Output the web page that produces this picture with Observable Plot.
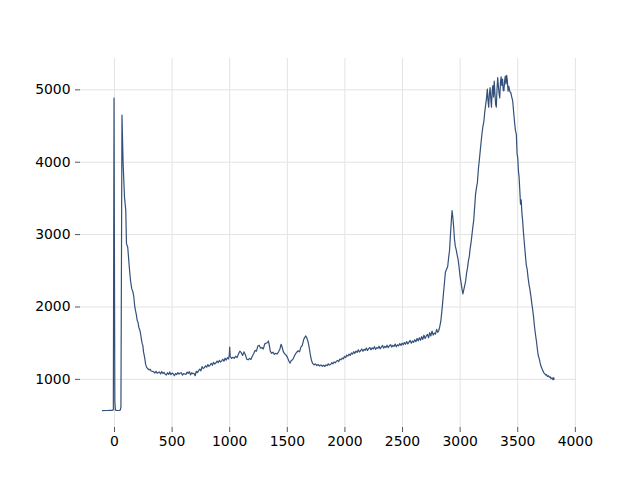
<!DOCTYPE html>
<html>
<head>
<meta charset="utf-8">
<script src="https://cdn.jsdelivr.net/npm/d3@7"></script>
<script src="https://cdn.jsdelivr.net/npm/@observablehq/plot@0.6"></script>
<style>
  html, body { margin: 0; padding: 0; background: white; }
</style>
</head>
<body>
<div id="chart"></div>
<script>
// Spectrum: [x, intensity]
const laserRegion = [
  [-104, 568], [-80, 570], [-60, 570], [-40, 571], [-20, 572], [-10, 580],
  [-4, 4886], [3, 700], [8, 575], [20, 572], [35, 570], [50, 575], [56, 620],
  [65, 4651], [75, 3979], [87, 3514], [98, 3331], [104, 2876], [115, 2825],
  [128, 2560], [139, 2366], [150, 2250], [160, 2210], [168, 2135], [175, 2020], [182, 1952],
  [190, 1890], [197, 1814], [204, 1790], [211, 1721], [218, 1690], [226, 1634],
  [233, 1560], [240, 1497], [246, 1470], [252, 1380], [258, 1330], [263, 1290],
  [270, 1210], [278, 1170], [288, 1150], [300, 1130], [310, 1140], [318, 1115], [330, 1110]
];
const lowRegion = [
  [340, 1105], [350, 1088], [360, 1112], [370, 1084], [380, 1096], [390, 1102], [400, 1075],
  [410, 1108], [420, 1080], [430, 1098], [440, 1070], [450, 1060], [460, 1092], [470, 1068],
  [480, 1102], [490, 1064], [500, 1086], [510, 1078], [520, 1050], [530, 1082], [540, 1066],
  [550, 1094], [560, 1072], [570, 1088], [580, 1092], [590, 1058], [600, 1080], [610, 1074],
  [620, 1068], [630, 1100], [640, 1084], [650, 1106], [660, 1062], [670, 1092], [680, 1078],
  [690, 1084], [700, 1050], [710, 1112], [720, 1094], [730, 1120], [740, 1142], [750, 1118],
  [760, 1176], [770, 1150], [780, 1162], [790, 1188], [800, 1168], [810, 1204], [820, 1180],
  [830, 1196], [840, 1222], [850, 1194], [860, 1236], [870, 1212], [880, 1226], [890, 1252],
  [900, 1230], [910, 1262], [920, 1240], [930, 1256], [940, 1278], [950, 1250], [960, 1292],
  [970, 1266], [980, 1300], [990, 1282], [996, 1330], [1000, 1445], [1004, 1320],
  [1016, 1290], [1028, 1305], [1040, 1290], [1052, 1320], [1064, 1300], [1076, 1350],
  [1088, 1390], [1100, 1370], [1112, 1330], [1124, 1380], [1136, 1340], [1148, 1280],
  [1160, 1270], [1172, 1290], [1184, 1275], [1196, 1320], [1208, 1355], [1220, 1400],
  [1232, 1390], [1244, 1460], [1256, 1470], [1268, 1430], [1280, 1440], [1292, 1420],
  [1304, 1490], [1316, 1500], [1328, 1510], [1336, 1530], [1344, 1470], [1352, 1390],
  [1364, 1360], [1376, 1375], [1388, 1345], [1400, 1360], [1412, 1350], [1424, 1380],
  [1436, 1420], [1446, 1485], [1456, 1440], [1466, 1380], [1478, 1350], [1490, 1335],
  [1502, 1300], [1514, 1250], [1524, 1225], [1534, 1260], [1546, 1270], [1558, 1310],
  [1570, 1350], [1582, 1375], [1594, 1395], [1606, 1380], [1618, 1445], [1630, 1470],
  [1642, 1550], [1652, 1580], [1660, 1600], [1670, 1570], [1680, 1520], [1690, 1440],
  [1700, 1340], [1710, 1260], [1720, 1220], [1732, 1200], [1744, 1215], [1756, 1190],
  [1768, 1205], [1780, 1185], [1792, 1200], [1804, 1180]
];
const midRegion = [
  [1816, 1195], [1826, 1178], [1836, 1200], [1846, 1190], [1856, 1215], [1866, 1198],
  [1876, 1205], [1886, 1232], [1896, 1215], [1906, 1240], [1916, 1228], [1926, 1250],
  [1936, 1262], [1946, 1245], [1956, 1280], [1966, 1270], [1976, 1295], [1986, 1282],
  [1996, 1318], [2006, 1300], [2016, 1335], [2026, 1322], [2036, 1350], [2046, 1330],
  [2056, 1365], [2066, 1348], [2076, 1382], [2086, 1360], [2096, 1390], [2106, 1372],
  [2116, 1408], [2126, 1378], [2136, 1395], [2146, 1420], [2156, 1388], [2166, 1415],
  [2176, 1402], [2186, 1432], [2196, 1398], [2206, 1425], [2216, 1440], [2226, 1408],
  [2236, 1436], [2246, 1420], [2256, 1452], [2266, 1415], [2276, 1440], [2286, 1428],
  [2296, 1458], [2306, 1422], [2316, 1446], [2326, 1468], [2336, 1432], [2346, 1455],
  [2356, 1440], [2366, 1472], [2376, 1438], [2386, 1462], [2396, 1480], [2406, 1446],
  [2416, 1470], [2426, 1455], [2436, 1488], [2446, 1450], [2456, 1478], [2466, 1462],
  [2476, 1495], [2486, 1468], [2496, 1500], [2506, 1478], [2516, 1510], [2526, 1485],
  [2536, 1522], [2546, 1490], [2556, 1515], [2566, 1538], [2576, 1500], [2586, 1530],
  [2596, 1512], [2606, 1548], [2616, 1520], [2626, 1565], [2636, 1532], [2646, 1575],
  [2656, 1540], [2666, 1590], [2676, 1552], [2686, 1610], [2696, 1565], [2706, 1598],
  [2716, 1622], [2726, 1575], [2736, 1645], [2746, 1600], [2756, 1668], [2766, 1612],
  [2776, 1640], [2786, 1625], [2796, 1690], [2806, 1650], [2814, 1672]
];
const chRegion = [
  [2822, 1720], [2832, 1800], [2842, 1950], [2852, 2130], [2862, 2300], [2872, 2480],
  [2882, 2520], [2892, 2560], [2900, 2680], [2908, 2780], [2916, 3000], [2924, 3200],
  [2930, 3330], [2936, 3250], [2944, 3100], [2950, 2950], [2958, 2840], [2966, 2790],
  [2974, 2720], [2982, 2660], [2990, 2560], [3000, 2420], [3010, 2320], [3018, 2230],
  [3024, 2180], [3032, 2240], [3040, 2300], [3048, 2360], [3056, 2470], [3064, 2540],
  [3072, 2640], [3080, 2700], [3086, 2800], [3094, 2880], [3102, 2990], [3110, 3100],
  [3118, 3200], [3126, 3380], [3134, 3560], [3142, 3650], [3150, 3720], [3158, 3900],
  [3166, 4020], [3174, 4150], [3182, 4280], [3190, 4400], [3198, 4500], [3206, 4560],
  [3214, 4700], [3222, 4800], [3230, 4900], [3236, 5010], [3242, 4850], [3248, 4760],
  [3254, 4950], [3260, 5030], [3266, 4880], [3272, 4760], [3278, 4980], [3284, 5060],
  [3290, 4900], [3296, 5120], [3302, 4950], [3308, 4800], [3314, 4760], [3320, 5000],
  [3326, 5170], [3332, 5050], [3338, 4950], [3344, 4890], [3350, 5100], [3356, 5180],
  [3362, 5060], [3368, 5150], [3374, 4990], [3380, 4986], [3386, 5120], [3392, 5190],
  [3398, 5080], [3404, 5200], [3410, 5120], [3416, 4980], [3422, 5050], [3428, 5000],
  [3434, 4970], [3440, 4960], [3448, 4900], [3456, 4850], [3464, 4700], [3472, 4560],
  [3480, 4440], [3488, 4380], [3494, 4120], [3500, 4060], [3506, 3880], [3512, 3790],
  [3518, 3610], [3524, 3420], [3530, 3480], [3536, 3300], [3542, 3200], [3550, 3020],
  [3558, 2870], [3566, 2720], [3574, 2580], [3582, 2520], [3590, 2400], [3598, 2310],
  [3606, 2240], [3614, 2150], [3622, 2050], [3630, 1960], [3638, 1850], [3646, 1720],
  [3654, 1620], [3662, 1530], [3670, 1420], [3678, 1330], [3686, 1290], [3694, 1230],
  [3702, 1180], [3710, 1150], [3718, 1120], [3726, 1090], [3734, 1080], [3742, 1060],
  [3750, 1065], [3758, 1040], [3766, 1050], [3774, 1030], [3782, 1035], [3790, 1010],
  [3798, 1020], [3806, 995], [3812, 1025], [3815, 1000]
];
const xTicks = [0, 500, 1000, 1500, 2000, 2500, 3000, 3500, 4000];
const yTicks = [1000, 2000, 3000, 4000, 5000];

const spectrum = [...laserRegion, ...lowRegion, ...midRegion, ...chRegion]
  .map(([x, y]) => ({x, y}));

const chart = Plot.plot({
  width: 640,
  height: 480,
  marginLeft: 80,
  marginRight: 64,
  marginTop: 58,
  marginBottom: 53,
  style: {fontFamily: "DejaVu Sans", fontSize: "13.9px", background: "white", color: "black"},
  x: {domain: [-295, 4010]},
  y: {domain: [335, 5433]},
  marks: [
    Plot.gridX(xTicks, {stroke: "#e3e3e3", strokeOpacity: 1, strokeWidth: 1}),
    Plot.gridY(yTicks, {stroke: "#e3e3e3", strokeOpacity: 1, strokeWidth: 1}),
    Plot.axisX(xTicks, {tickSize: 5, tickPadding: 4, tickFormat: d => String(d), stroke: "#555", fontSize: 13.9, label: null}),
    Plot.axisY(yTicks, {tickSize: 5, tickPadding: 5, tickFormat: d => String(d), stroke: "#555", fontSize: 13.9, label: null}),
    Plot.line(spectrum, {x: "x", y: "y", stroke: "#34507a", strokeWidth: 1.2})
  ]
});
document.getElementById("chart").appendChild(chart);
</script>
</body>
</html>
